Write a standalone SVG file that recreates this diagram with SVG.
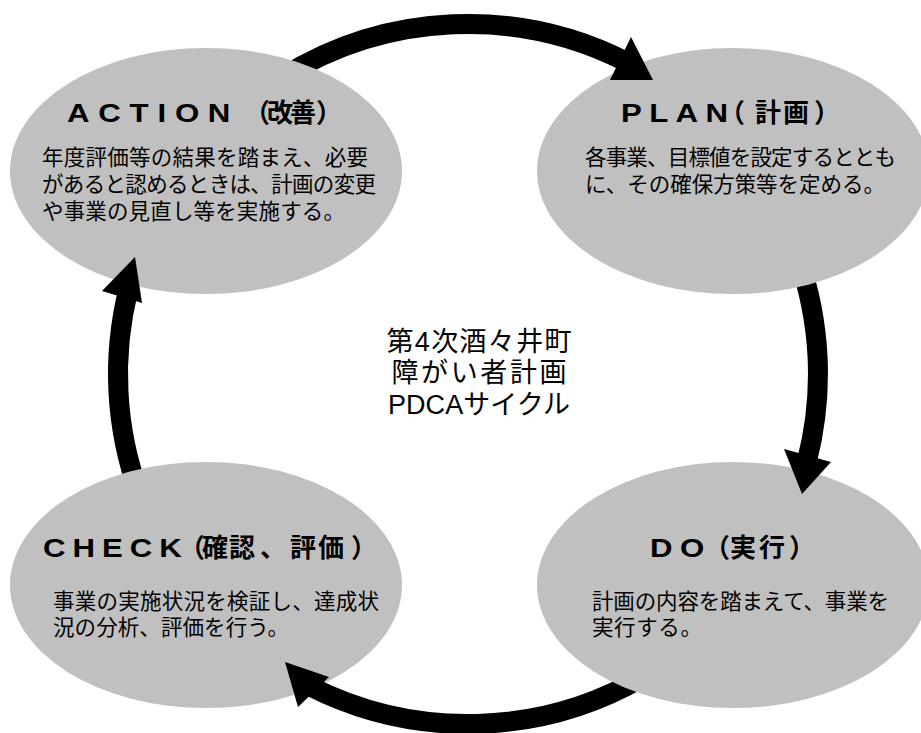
<svg xmlns="http://www.w3.org/2000/svg" width="921" height="733" viewBox="0 0 921 733">
<style>
.bub{fill:#C0C0C0;stroke:none}
.ttlL{font-family:"Liberation Sans","Noto Sans CJK JP",sans-serif;font-size:26px;font-weight:bold;fill:#000}
.ttl{font-family:"Noto Sans CJK JP",sans-serif;font-size:26px;font-weight:bold;fill:#000}
.body{font-family:"Noto Sans CJK JP",sans-serif;font-size:21.5px;fill:#000}
.ctr{font-family:"Liberation Sans","Noto Sans CJK JP",sans-serif;font-size:27px;fill:#000;text-anchor:middle}
.band{fill:none;stroke:#000;stroke-width:20;stroke-linecap:butt}
.head{fill:#000;stroke:none}
</style>
<defs>
<clipPath id="noA"><path clip-rule="evenodd" d="M0,0H921V733H0Z M10,171a196,123 0 1,0 392,0a196,123 0 1,0 -392,0Z"/></clipPath>
<clipPath id="noP"><path clip-rule="evenodd" d="M0,0H921V733H0Z M537,171a196,123 0 1,0 392,0a196,123 0 1,0 -392,0Z"/></clipPath>
<clipPath id="noD"><path clip-rule="evenodd" d="M0,0H921V733H0Z M537,585a196,123 0 1,0 392,0a196,123 0 1,0 -392,0Z"/></clipPath>
<clipPath id="noC"><path clip-rule="evenodd" d="M0,0H921V733H0Z M10,585a196,123 0 1,0 392,0a196,123 0 1,0 -392,0Z"/></clipPath>
</defs>
<rect width="921" height="733" fill="#fff"/>

<g id="action">
<ellipse class="bub" cx="206" cy="171" rx="196" ry="123"/>
<text class="ttlL" transform="scale(1.2,1)" y="122" x="55.8 81.9 108 131.2 145.8 173.1">ACTION</text>
<text class="ttl" y="122" x="244 267 290 316">（改善）</text>
<text class="body"><tspan x="42" y="165" textLength="326" lengthAdjust="spacing">年度評価等の結果を踏まえ、必要</tspan><tspan x="42" y="192" textLength="334" lengthAdjust="spacing">があると認めるときは、計画の変更</tspan><tspan x="42" y="219" textLength="303" lengthAdjust="spacing">や事業の見直し等を実施する。</tspan></text>
</g>

<g id="plan">
<ellipse class="bub" cx="733" cy="171" rx="196" ry="123"/>
<text class="ttlL" transform="scale(1.2,1)" y="122" x="517.5 541 563 587.9">PLAN</text>
<text class="ttl" y="122" x="719 755 783 814">（計画）</text>
<text class="body"><tspan x="585" y="165" textLength="311" lengthAdjust="spacing">各事業、目標値を設定するととも</tspan><tspan x="585" y="192" textLength="300" lengthAdjust="spacing">に、その確保方策等を定める。</tspan></text>
</g>

<g id="do">
<ellipse class="bub" cx="733" cy="585" rx="196" ry="123"/>
<text class="ttlL" transform="scale(1.2,1)" y="557" x="541.7 566.7">DO</text>
<text class="ttl" y="557" x="704 730 759 789">（実行）</text>
<text class="body"><tspan x="592" y="609" textLength="297" lengthAdjust="spacing">計画の内容を踏まえて、事業を</tspan><tspan x="592" y="635" textLength="110" lengthAdjust="spacing">実行する。</tspan></text>
</g>

<g id="check">
<ellipse class="bub" cx="206" cy="585" rx="196" ry="123"/>
<text class="ttlL" transform="scale(1.2,1)" y="557" x="35.8 60.4 85 108.2 132.8">CHECK</text>
<text class="ttl" y="557" x="179 202 229 260 290 318 351">（確認、評価）</text>
<text class="body"><tspan x="53" y="609" textLength="326" lengthAdjust="spacing">事業の実施状況を検証し、達成状</tspan><tspan x="53" y="635" textLength="236" lengthAdjust="spacing">況の分析、評価を行う。</tspan></text>
</g>

<g id="center">
<text class="ctr"><tspan x="479" y="351" textLength="185" lengthAdjust="spacing">第4次酒々井町</tspan><tspan x="479" y="382" textLength="175" lengthAdjust="spacing">障がい者計画</tspan><tspan x="479" y="414" textLength="182" lengthAdjust="spacing">PDCAサイクル</tspan></text>
</g>

<g id="connectors">
<g id="action-plan">
<path class="band" clip-path="url(#noA)" d="M282.5,77.2 A350,350 0 0 1 626.9,62.1"/>
<polygon class="head" points="631,37 653,80 610,80"/>
</g>
<g id="plan-do">
<path class="band" clip-path="url(#noP)" d="M796.9,254.3 A350,350 0 0 1 806.8,461.6"/>
<polygon class="head" points="784,449 831,462 802,494"/>
</g>
<g id="do-check">
<path class="band" clip-path="url(#noD)" d="M643,677.1 A350,350 0 0 1 309.1,685.9"/>
<polygon class="head" points="329,677 285,662 298,707"/>
</g>
<g id="check-action">
<path class="band" clip-path="url(#noC)" d="M139.1,493.7 A350,350 0 0 1 128.4,289.3"/>
<polygon class="head" points="102,291 135,257 142,303"/>
</g>
</g>
</svg>
